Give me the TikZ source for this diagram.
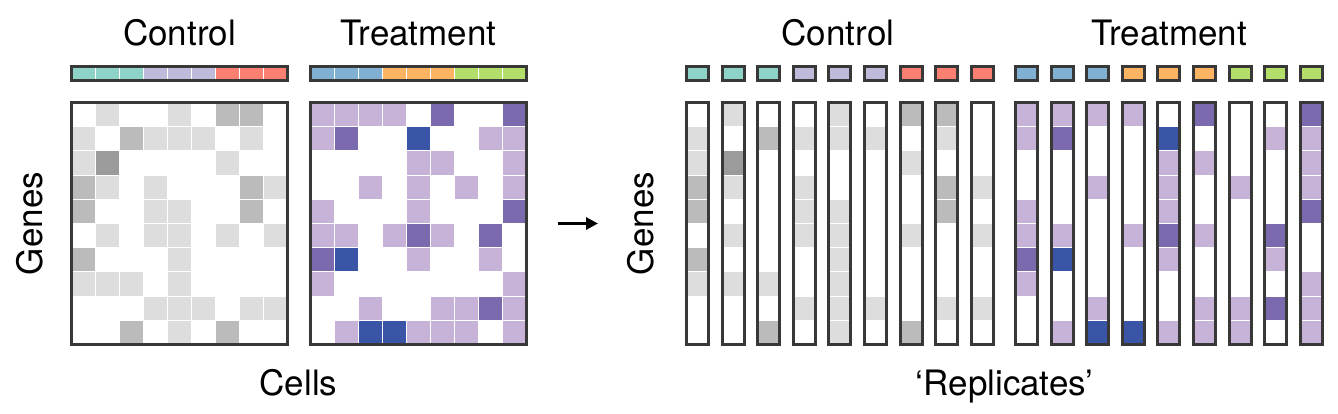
\documentclass[tikz,border=0pt]{standalone}
\usepackage{fontspec}
\setmainfont{TeX Gyre Heros}
\usetikzlibrary{arrows.meta,positioning}

% expression levels: grey for control, purple for treatment
\definecolor{g0}{HTML}{FFFFFF}
\definecolor{g1}{HTML}{DCDDDC}
\definecolor{g2}{HTML}{BBBBBB}
\definecolor{g3}{HTML}{9B9B9B}
\definecolor{p0}{HTML}{FFFFFF}
\definecolor{p1}{HTML}{C6B3D7}
\definecolor{p2}{HTML}{7C6AAF}
\definecolor{p3}{HTML}{3A55A5}
\definecolor{edgegray}{HTML}{383838}
% sample colours
\definecolor{sTeal}{HTML}{8DD3C7}
\definecolor{sLav}{HTML}{BEBADA}
\definecolor{sSalm}{HTML}{FB8072}
\definecolor{sBlue}{HTML}{80B1D3}
\definecolor{sOrng}{HTML}{FDB462}
\definecolor{sGrn}{HTML}{B3DE69}

\begin{document}
\begin{tikzpicture}[x=1pt,y=-1pt,
  cell/.style={draw=white,line width=1pt},
  frame/.style={draw=edgegray,line width=3pt},
  lbl/.style={font=\fontsize{35}{42}\selectfont}]
\useasboundingbox (0,0) rectangle (1338,414);

% control cells
\foreach \c/\clr/\vals in {1/sTeal/{0,1,1,2,2,0,2,1,0,0},2/sTeal/{1,0,3,1,0,1,0,1,0,0},
  3/sTeal/{0,2,0,0,0,0,0,1,0,2},4/sLav/{0,1,0,1,1,1,0,0,1,0},5/sLav/{1,1,0,0,1,1,1,1,1,1},
  6/sLav/{0,1,0,0,0,0,0,0,1,0},7/sSalm/{2,0,1,0,0,1,0,0,0,2},8/sSalm/{2,1,0,2,2,0,0,0,1,0},
  9/sSalm/{0,0,0,1,0,1,0,0,1,0}}{
  \fill[\clr,cell] ({71+(\c-1)*24.1},66.5) rectangle ++(24.1,14);
  \fill[\clr,cell] ({686.5+(\c-1)*35.6},66.5) rectangle ++(22,14);
  \foreach \v [count=\r] in \vals {
    \fill[g\v,cell] ({71+(\c-1)*24.1},{102.5+(\r-1)*24.2}) rectangle ++(24.1,24.2);
    \fill[g\v,cell] ({686.5+(\c-1)*35.6},{102.5+(\r-1)*24.2}) rectangle ++(22,24.2);
  }
  \draw[frame] ({686.5+(\c-1)*35.6},66.5) rectangle ++(22,14);
  \draw[frame] ({686.5+(\c-1)*35.6},102.5) rectangle ++(22,242);
}

% treatment cells
\foreach \c/\clr/\vals in {1/sBlue/{1,1,0,0,1,1,2,1,0,0},2/sBlue/{1,2,0,0,0,1,3,0,0,1},
  3/sBlue/{1,0,0,1,0,0,0,0,1,3},4/sOrng/{1,0,0,0,0,1,0,0,0,3},5/sOrng/{0,3,1,1,1,2,1,0,0,1},
  6/sOrng/{2,0,1,0,0,1,0,0,1,1},7/sGrn/{0,0,0,1,0,0,0,0,1,1},8/sGrn/{0,1,0,0,0,2,1,0,2,0},
  9/sGrn/{2,1,1,1,2,0,0,1,1,1}}{
  \fill[\clr,cell] ({310+(\c-1)*24.1},66.5) rectangle ++(24.1,14);
  \fill[\clr,cell] ({1015.5+(\c-1)*35.6},66.5) rectangle ++(22,14);
  \foreach \v [count=\r] in \vals {
    \fill[p\v,cell] ({310+(\c-1)*24.1},{102.5+(\r-1)*24.2}) rectangle ++(24.1,24.2);
    \fill[p\v,cell] ({1015.5+(\c-1)*35.6},{102.5+(\r-1)*24.2}) rectangle ++(22,24.2);
  }
  \draw[frame] ({1015.5+(\c-1)*35.6},66.5) rectangle ++(22,14);
  \draw[frame] ({1015.5+(\c-1)*35.6},102.5) rectangle ++(22,242);
}

% frames round the matrices
\draw[frame] (71,66.5) rectangle (287.9,80.5);
\draw[frame] (71,102.5) rectangle (287.9,344.5);
\draw[frame] (310,66.5) rectangle (526.9,80.5);
\draw[frame] (310,102.5) rectangle (526.9,344.5);

% labels
\node[lbl,anchor=base] (ctrlL) at (179.5,46) {Control};
\node[lbl,anchor=base] (trtL) at (418.5,46) {Treatment};
\node[lbl,anchor=base] (cellsL) at (298.5,395) {Cells};
\node[lbl,rotate=90] (genesL) at (30,223.5) {Genes};
\node[lbl,anchor=base] (ctrlR) at (838,46) {Control};
\node[lbl,anchor=base] (trtR) at (1169,46) {Treatment};
\node[lbl,anchor=base] (repR) at (1004.5,395) {‘Replicates’};
\node[lbl,rotate=90] (genesR) at (641,223.5) {Genes};

% arrow
\coordinate (arrtail) at (558,223.5);
\coordinate (arrhead) at (598,223.5);
\draw[-{Triangle[length=12pt,width=12pt]},line width=3.5pt] (arrtail) -- (arrhead);
\end{tikzpicture}
\end{document}
